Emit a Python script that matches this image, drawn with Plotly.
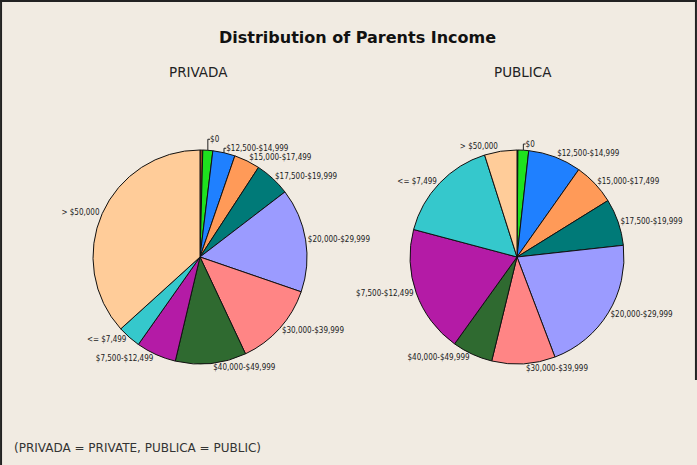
import plotly.graph_objects as go

categories = ["", "$0", "$12,500-$14,999", "$15,000-$17,499", "$17,500-$19,999",
              "$20,000-$29,999", "$30,000-$39,999", "$40,000-$49,999",
              "$7,500-$12,499", "<= $7,499", "> $50,000"]
privada = [1.5, 5.4, 12.1, 14.1, 19.4, 56.4, 45.8, 38.5, 21.8, 12.6, 132.1]
publica = [0.5, 5.8, 28.9, 22.9, 25.5, 75.4, 34.4, 22.0, 69.1, 57.4, 17.6]
colors = ["#8a4a1c", "#1ee21e", "#1f80ff", "#ff9a58", "#007a78",
          "#9b9bff", "#ff8585", "#2f6a30", "#b41ba6", "#35c8cc", "#ffcc99"]

W, H = 697, 465
bg = "#f1ebe2"
FONT = "DejaVu Sans"

def pie(values, cx, name):
    r = 107
    cy = 257
    return go.Pie(
        labels=categories, values=values, name=name, sort=False,
        direction="clockwise", rotation=0,
        marker=dict(colors=colors, line=dict(color="#111111", width=1)),
        textinfo="text", text=categories,
        textposition=["none" if c == "" else "outside" for c in categories],
        textfont=dict(family="DejaVu Sans Condensed", size=8, color="#222222"),
        hoverinfo="label+percent", showlegend=False,
        domain=dict(x=[(cx - r) / W, (cx + r) / W],
                    y=[(H - cy - r) / H, (H - cy + r) / H]),
    )

fig = go.Figure([pie(privada, 200, "PRIVADA"), pie(publica, 517, "PUBLICA")])

fig.update_layout(
    width=W, height=H, margin=dict(l=0, r=0, t=0, b=0),
    paper_bgcolor=bg, plot_bgcolor=bg,
    annotations=[
        dict(text="<b>Distribution of Parents Income</b>", x=357 / W, y=1 - 37 / H,
             xref="paper", yref="paper", showarrow=False, xanchor="center", yanchor="middle",
             font=dict(family=FONT, size=16, color="#111111")),
        dict(text="PRIVADA", x=198 / W, y=1 - 72 / H, xref="paper", yref="paper",
             showarrow=False, xanchor="center", yanchor="middle",
             font=dict(family=FONT, size=13.5, color="#222222")),
        dict(text="PUBLICA", x=523 / W, y=1 - 72 / H, xref="paper", yref="paper",
             showarrow=False, xanchor="center", yanchor="middle",
             font=dict(family=FONT, size=13.5, color="#222222")),
        dict(text="(PRIVADA = PRIVATE, PUBLICA = PUBLIC)", x=12 / W, y=1 - 448 / H,
             xref="paper", yref="paper", showarrow=False, xanchor="left", yanchor="middle",
             font=dict(family=FONT, size=12, color="#333333")),
    ],
    shapes=[
        dict(type="line", xref="paper", yref="paper", x0=0.0015, x1=0.0015, y0=0, y1=1,
             line=dict(color="#222222", width=2)),
        dict(type="line", xref="paper", yref="paper", x0=0, x1=1, y0=0.998, y1=0.998,
             line=dict(color="#222222", width=2)),
        dict(type="line", xref="paper", yref="paper", x0=0.9985, x1=0.9985, y0=1 - 380 / H, y1=1,
             line=dict(color="#222222", width=2)),
    ],
)

fig.write_html("out.html")
